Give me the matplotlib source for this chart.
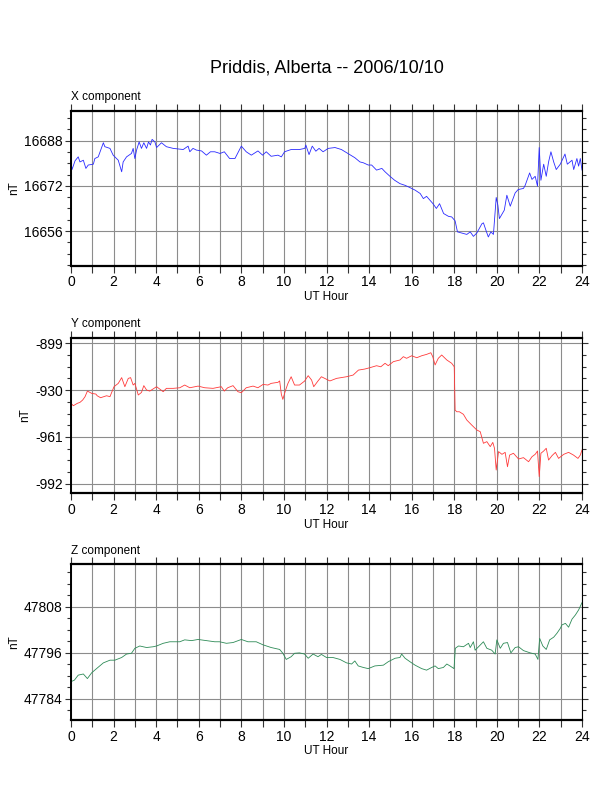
import numpy as np
import matplotlib
matplotlib.use('Agg')
import matplotlib.pyplot as plt
from matplotlib.ticker import MultipleLocator

plt.rcParams['font.family'] = ['Liberation Sans', 'DejaVu Sans']

# X component (hour, nT)
x_hours = [0.00, 0.05, 0.19, 0.34, 0.42, 0.58, 0.70, 0.81, 1.05, 1.12, 1.28, 1.52, 1.59, 1.83, 1.98,
           2.22, 2.38, 2.45, 2.61, 2.84, 2.92, 3.00, 3.08, 3.20, 3.31, 3.42, 3.55, 3.64, 3.73, 3.81,
           3.94, 4.02, 4.25, 4.48, 4.80, 5.27, 5.50, 5.58, 5.73, 5.89, 6.13, 6.36, 6.55, 6.75, 7.00,
           7.20, 7.45, 7.70, 8.00, 8.23, 8.47, 8.78, 9.00, 9.17, 9.40, 9.72, 9.88, 10.03, 10.34, 10.73,
           10.98, 11.03, 11.18, 11.33, 11.50, 11.65, 11.84, 12.08, 12.40, 12.70, 13.00, 13.33, 13.57,
           13.73, 13.96, 14.12, 14.35, 14.60, 14.75, 14.98, 15.20, 15.45, 15.69, 15.92, 16.16, 16.40,
           16.55, 16.70, 16.86, 17.00, 17.16, 17.31, 17.50, 17.73, 17.88, 18.04, 18.15, 18.35, 18.59,
           18.75, 18.90, 19.06, 19.30, 19.37, 19.50, 19.60, 19.72, 19.84, 19.97, 20.05, 20.12, 20.35,
           20.47, 20.63, 20.86, 21.00, 21.25, 21.33, 21.54, 21.65, 21.80, 21.91, 21.99, 22.07, 22.20,
           22.32, 22.43, 22.54, 22.67, 22.79, 22.98, 23.20, 23.31, 23.53, 23.61, 23.76, 23.84, 23.92, 24.00]
x_vals = [16680.5, 16677.8, 16680.9, 16682.3, 16680.5, 16681.1, 16678.2, 16679.4, 16679.7, 16681.7,
          16682.3, 16687.3, 16685.9, 16685.3, 16682.9, 16681.1, 16677.0, 16680.5, 16682.3, 16683.5,
          16685.3, 16681.7, 16684.7, 16687.6, 16685.3, 16687.3, 16685.3, 16687.6, 16686.5, 16688.5,
          16687.6, 16685.6, 16687.3, 16685.9, 16685.3, 16684.9, 16686.1, 16684.1, 16685.3, 16684.7,
          16684.4, 16682.9, 16684.1, 16684.1, 16683.5, 16684.1, 16681.7, 16681.7, 16686.1, 16684.1,
          16682.9, 16684.4, 16682.9, 16684.1, 16682.5, 16682.9, 16682.3, 16684.1, 16684.9, 16684.9,
          16685.3, 16686.5, 16683.1, 16686.1, 16684.3, 16685.3, 16684.1, 16685.3, 16685.6, 16684.9,
          16683.5, 16682.0, 16680.5, 16680.2, 16679.4, 16679.4, 16677.6, 16678.2, 16677.0, 16675.4,
          16674.0, 16672.8, 16672.2, 16671.4, 16670.5, 16669.3, 16667.5, 16668.3, 16666.9, 16665.7,
          16664.0, 16665.7, 16662.2, 16661.2, 16661.0, 16659.6, 16655.7, 16655.3, 16654.8, 16655.7,
          16654.1, 16655.3, 16658.6, 16658.9, 16656.0, 16653.9, 16655.7, 16654.8, 16667.9, 16665.1,
          16660.4, 16663.4, 16668.7, 16664.8, 16669.5, 16670.7, 16671.1, 16672.2, 16676.6, 16674.3,
          16675.4, 16671.9, 16685.6, 16674.0, 16679.7, 16675.4, 16680.5, 16684.1, 16680.5, 16677.8,
          16679.7, 16683.3, 16679.7, 16681.1, 16677.8, 16681.7, 16679.0, 16681.7, 16677.6]

# Y component
y_hours = [0.00, 0.11, 0.30, 0.42, 0.55, 0.66, 0.77, 0.97, 1.17, 1.23, 1.39, 1.67, 1.83, 2.02, 2.22,
           2.38, 2.53, 2.69, 2.80, 2.92, 3.00, 3.16, 3.31, 3.42, 3.55, 3.70, 4.02, 4.33, 4.48, 4.80,
           5.11, 5.34, 5.58, 5.97, 6.28, 6.67, 7.06, 7.20, 7.36, 7.61, 7.84, 8.00, 8.23, 8.55, 8.78,
           9.02, 9.25, 9.40, 9.72, 9.80, 9.88, 9.95, 10.08, 10.19, 10.34, 10.50, 10.73, 10.97, 11.14,
           11.30, 11.40, 11.60, 11.76, 11.92, 12.16, 12.47, 12.94, 13.25, 13.50, 13.80, 14.04, 14.35,
           14.55, 14.75, 14.90, 15.14, 15.45, 15.61, 15.76, 16.00, 16.24, 16.47, 16.70, 16.90, 16.99,
           17.10, 17.25, 17.41, 17.65, 17.88, 18.00, 18.04, 18.12, 18.24, 18.43, 18.59, 18.82, 19.06,
           19.22, 19.37, 19.53, 19.69, 19.81, 19.89, 19.97, 20.08, 20.24, 20.39, 20.50, 20.60, 20.78,
           21.02, 21.25, 21.49, 21.65, 21.80, 21.91, 21.99, 22.07, 22.20, 22.32, 22.43, 22.59, 22.75,
           22.90, 23.14, 23.37, 23.60, 23.81, 23.92, 24.00]
y_vals = [-938.7, -940.3, -938.7, -938.1, -936.5, -934.3, -930.6, -932.1, -932.6, -933.7, -935.0,
          -933.7, -934.3, -927.7, -925.5, -921.7, -927.7, -922.2, -921.7, -926.6, -925.5, -933.2,
          -931.5, -927.0, -929.9, -930.6, -927.7, -931.0, -928.8, -928.8, -928.4, -926.6, -928.4,
          -927.3, -928.4, -928.8, -927.7, -930.6, -928.4, -927.0, -931.0, -931.7, -928.4, -927.3,
          -928.4, -926.2, -926.6, -925.5, -924.8, -923.9, -932.8, -936.1, -929.9, -925.5, -921.1,
          -926.6, -926.6, -924.0, -920.4, -923.3, -927.7, -923.9, -921.1, -922.2, -923.9, -922.2,
          -921.1, -920.0, -916.7, -916.0, -915.1, -913.8, -914.5, -912.2, -913.8, -911.1, -910.0,
          -907.8, -908.9, -907.2, -908.5, -907.2, -906.3, -905.2, -907.8, -913.3, -908.9, -906.7,
          -910.0, -912.2, -914.5, -943.2, -944.3, -944.3, -946.0, -949.8, -953.1, -956.4, -957.5,
          -965.2, -964.1, -967.4, -964.6, -968.5, -982.9, -970.7, -972.5, -971.2, -980.7, -973.0,
          -971.8, -975.6, -974.7, -977.4, -974.1, -972.5, -970.3, -987.3, -971.8, -970.3, -968.5,
          -976.3, -973.4, -971.2, -975.2, -972.5, -971.2, -973.0, -975.2, -973.0, -969.6]

# Z component
z_hours = [0.00, 0.16, 0.34, 0.58, 0.77, 0.97, 1.20, 1.52, 1.83, 2.06, 2.38, 2.61, 2.84, 3.00, 3.23,
           3.55, 3.86, 4.02, 4.33, 4.64, 5.11, 5.34, 5.66, 5.97, 6.36, 6.75, 6.98, 7.30, 7.61, 8.00,
           8.31, 8.70, 9.02, 9.40, 9.80, 9.95, 10.11, 10.34, 10.50, 10.73, 10.97, 11.14, 11.37, 11.60,
           11.76, 12.00, 12.30, 12.63, 12.94, 13.18, 13.33, 13.49, 13.73, 13.96, 14.27, 14.67, 14.90,
           15.22, 15.45, 15.53, 15.69, 15.92, 16.16, 16.47, 16.70, 16.94, 17.10, 17.25, 17.49, 17.65,
           17.80, 17.99, 18.05, 18.20, 18.43, 18.67, 18.75, 18.90, 18.98, 19.14, 19.37, 19.53, 19.76,
           19.92, 20.00, 20.16, 20.31, 20.50, 20.66, 20.86, 21.02, 21.25, 21.57, 21.80, 21.93, 22.01,
           22.16, 22.32, 22.48, 22.67, 22.82, 22.98, 23.06, 23.22, 23.37, 23.53, 23.69, 23.84, 24.00]
z_vals = [47788.5, 47788.9, 47790.2, 47790.5, 47789.3, 47790.8, 47791.9, 47793.4, 47794.1, 47794.1,
          47794.8, 47795.7, 47795.9, 47797.2, 47797.8, 47797.4, 47797.6, 47797.8, 47798.5, 47798.9,
          47798.9, 47799.4, 47799.2, 47799.5, 47799.2, 47798.9, 47798.9, 47798.5, 47798.7, 47799.5,
          47798.9, 47798.9, 47798.1, 47797.4, 47796.9, 47795.9, 47794.3, 47795.0, 47795.9, 47796.0,
          47795.7, 47794.6, 47795.7, 47795.0, 47795.6, 47794.8, 47794.8, 47794.3, 47793.4, 47793.1,
          47793.9, 47792.6, 47792.2, 47791.9, 47792.6, 47792.8, 47793.7, 47794.6, 47794.8, 47795.7,
          47794.6, 47793.7, 47792.8, 47791.9, 47791.5, 47792.2, 47792.6, 47791.9, 47792.2, 47793.1,
          47792.6, 47791.9, 47797.2, 47797.8, 47797.6, 47798.5, 47797.4, 47798.9, 47796.7, 47797.6,
          47798.9, 47797.2, 47796.7, 47795.7, 47799.4, 47797.2, 47798.5, 47798.7, 47796.0, 47797.4,
          47797.6, 47796.6, 47796.0, 47795.7, 47794.3, 47799.8, 47797.8, 47796.9, 47799.4, 47800.1,
          47801.1, 47802.4, 47803.3, 47803.7, 47802.7, 47804.8, 47805.9, 47807.2, 47809.1]

panels = [
    ('X component', x_hours, x_vals, '#2a2aff', (16643.7, 16698.6), 16, 4, [0.116, 0.6645, 0.835, 0.1955]),
    ('Y component', y_hours, y_vals, '#ff3a3a', (-998.4, -895.3), 31, 7.75, [0.116, 0.377, 0.835, 0.1965]),
    ('Z component', z_hours, z_vals, '#2e8b57', (47778.5, 47819.1), 12, 3, [0.116, 0.0909, 0.835, 0.1966]),
]

fig = plt.figure(figsize=(6.12, 7.92), dpi=100)

for name, hrs, vals, col, ylim, major, minor, pos in panels:
    ax = fig.add_axes(pos)
    ax.plot(hrs, vals, color=col, lw=0.6)
    ax.set_xlim(0, 24)
    ax.set_ylim(*ylim)
    ax.xaxis.set_major_locator(MultipleLocator(2))
    ax.xaxis.set_minor_locator(MultipleLocator(1))
    # major y ticks anchored at the labelled values
    lo = ylim[0]
    first = np.ceil(lo / major) * major
    if name == 'Y component':
        ticks = [-992, -961, -930, -899]
    else:
        ticks = list(np.arange(first, ylim[1], major))
    ax.set_yticks(ticks)
    ax.set_yticklabels([str(int(t)) for t in ticks])
    mticks = []
    t = ticks[0] - minor
    while t > ylim[0]:
        mticks.append(t)
        t -= minor
    t = ticks[0] + minor
    while t < ylim[1]:
        mticks.append(t)
        t += minor
    ax.set_yticks(mticks, minor=True)

    ax.grid(True, which='major', axis='y', color='#8c8c8c', lw=0.8)
    ax.grid(True, which='both', axis='x', color='#8c8c8c', lw=0.8)
    ax.set_axisbelow(True)

    ax.tick_params(which='both', direction='out', top=True, right=True, labelsize=10,
                   color='#333333', pad=2)
    ax.tick_params(which='major', length=4, width=0.8)
    ax.tick_params(which='minor', length=3, width=0.8)
    ax.tick_params(axis='x', which='both', length=5)

    ax.spines['top'].set_linewidth(1.6)
    ax.spines['bottom'].set_linewidth(1.6)
    ax.spines['left'].set_linewidth(1.4)
    ax.spines['right'].set_linewidth(0.8)

    ax.set_xlabel('UT Hour', fontsize=8.5, labelpad=1)
    ax.set_ylabel('nT', fontsize=8.5, labelpad=3)
    ax.annotate(name, xy=(0, 1), xycoords='axes fraction', xytext=(0, 7.5),
                textcoords='offset points', fontsize=8.5, ha='left', va='baseline')

fig.text(0.534, 0.914, 'Priddis, Alberta -- 2006/10/10', fontsize=13, ha='center', va='center')

fig.savefig('out.png', dpi=100)
